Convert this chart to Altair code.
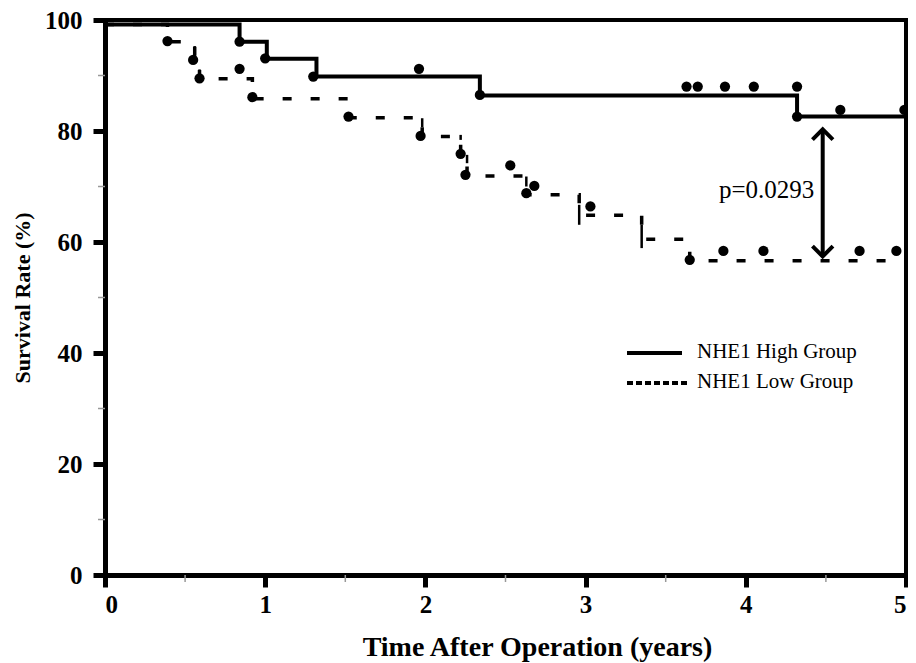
import altair as alt
import pandas as pd

# ---- data ----
high_t = [0, 0.84, 1.01, 1.32, 2.34, 4.32, 5.0]
high_s = [99.2, 96.1, 93.0, 89.8, 86.4, 82.6, 82.6]

low_t = [0, 0.39, 0.56, 0.59, 0.92, 1.52, 1.98, 2.22, 2.26, 2.63, 2.96, 3.35, 3.65, 5.0]
low_s = [99.2, 96.1, 92.8, 89.4, 85.8, 82.4, 79.0, 75.9, 71.9, 68.5, 64.8, 60.5, 56.6, 56.6]

high_dot_t = [0.84, 1.00, 1.30, 1.96, 2.34, 3.63, 3.70, 3.87, 4.05, 4.32, 4.32, 4.59, 4.99]
high_dot_s = [96.1, 93.1, 89.8, 91.2, 86.5, 88.0, 88.0, 88.0, 88.0, 88.0, 82.6, 83.8, 83.8]

low_dot_t = [0.39, 0.55, 0.59, 0.84, 0.92, 1.52, 1.97, 2.22, 2.25, 2.53, 2.63, 2.68, 3.03,
             3.65, 3.86, 4.11, 4.71, 4.94]
low_dot_s = [96.2, 92.8, 89.5, 91.2, 86.1, 82.6, 79.1, 75.9, 72.1, 73.8, 68.8, 70.1, 66.4,
             56.8, 58.4, 58.4, 58.4, 58.4]

# short vertical censor strokes on the low curve
low_tick_t = [0.56, 0.59, 1.98, 2.22, 2.26, 2.63, 2.96, 3.35]
low_tick_top = [95.3, 91.1, 82.3, 79.3, 75.7, 71.8, 66.7, 63.1]
low_tick_bot = [93.5, 90.1, 80.7, 78.4, 74.2, 70.0, 63.1, 58.9]

x_ticks = [0, 1, 2, 3, 4, 5]
y_ticks = [0, 20, 40, 60, 80, 100]
x_minor = [0.5, 1.5, 2.5, 3.5, 4.5]
y_minor = [10, 30, 50, 70, 90]

arrow_x = 4.48
arrow_top = 80.3
arrow_bot = 57.4
p_text = "p=0.0293"
p_x = 4.13
p_y = 69.3

legend_labels = ["NHE1 High Group", "NHE1 Low Group"]

FONT = "Liberation Serif"
W, H = 801, 555

xs = alt.Scale(domain=[0, 5], nice=False, zero=False)
ys = alt.Scale(domain=[0, 100], nice=False, zero=False)

high_df = pd.DataFrame({"t": high_t, "s": high_s})
low_df = pd.DataFrame({"t": low_t, "s": low_s})
hd_df = pd.DataFrame({"t": high_dot_t, "s": high_dot_s})
ld_df = pd.DataFrame({"t": low_dot_t, "s": low_dot_s})
lt_df = pd.DataFrame({"t": low_tick_t, "a": low_tick_top, "b": low_tick_bot})

common_axis = dict(
    grid=False, domainColor="black", domainWidth=5,
    tickColor="black", tickWidth=5, tickSize=12,
    labelFont=FONT, labelFontWeight="bold", labelFontSize=25, labelColor="black",
    titleFont=FONT, titleFontWeight="bold", titleColor="black",
)

X = alt.X("t:Q", scale=xs,
          axis=alt.Axis(values=x_ticks, format="d", title="Time After Operation (years)",
                        labelPadding=5, titlePadding=16, titleFontSize=28,
                        titleX=432, titleAnchor="middle", **common_axis))
Y = alt.Y("s:Q", scale=ys,
          axis=alt.Axis(values=y_ticks, format="d", title="Survival Rate (%)",
                        labelPadding=11, titlePadding=10, titleFontSize=22, **common_axis))

high_line = alt.Chart(high_df).mark_line(
    interpolate="step-after", color="black", strokeWidth=4
).encode(x=X, y=Y)

low_line = alt.Chart(low_df).mark_line(
    interpolate="step-after", color="black", strokeWidth=3.5, strokeDash=[9, 19]
).encode(x=X, y=Y)

low_ticks = alt.Chart(lt_df).mark_rule(color="black", strokeWidth=2.5).encode(
    x="t:Q", y="a:Q", y2="b:Q"
)

high_dots = alt.Chart(hd_df).mark_circle(color="black", size=105, opacity=1).encode(x="t:Q", y="s:Q")
low_dots = alt.Chart(ld_df).mark_circle(color="black", size=105, opacity=1).encode(x="t:Q", y="s:Q")

# minor ticks
xm = alt.Chart(pd.DataFrame({"m": x_minor})).mark_rule(color="#999999", strokeWidth=1.5).encode(
    x="m:Q", y=alt.value(H), y2=alt.value(H + 7)
)
ym = alt.Chart(pd.DataFrame({"m": y_minor})).mark_rule(color="#999999", strokeWidth=1.5).encode(
    y="m:Q", x=alt.value(-7), x2=alt.value(0)
)

# arrow annotation
arr_df = pd.DataFrame({"x": [arrow_x], "a": [arrow_bot], "b": [arrow_top]})
arrow_shaft = alt.Chart(arr_df).mark_rule(color="black", strokeWidth=4).encode(
    x="x:Q", y="a:Q", y2="b:Q"
)
arrow_up = alt.Chart(arr_df).mark_point(
    shape="M-1,1L0,0L1,1", filled=False, color="black", strokeWidth=4, size=420, opacity=1
).encode(x="x:Q", y="b:Q")
arrow_down = alt.Chart(arr_df).mark_point(
    shape="M-1,-1L0,0L1,-1", filled=False, color="black", strokeWidth=4, size=420, opacity=1
).encode(x="x:Q", y="a:Q")
p_label = alt.Chart(pd.DataFrame({"x": [p_x], "y": [p_y], "txt": [p_text]})).mark_text(
    font=FONT, fontSize=25, color="black", align="center", baseline="middle"
).encode(x="x:Q", y="y:Q", text="txt:N")

# manual legend
leg_high_line = alt.Chart(pd.DataFrame({"k": [0]})).mark_rule(color="black", strokeWidth=4).encode(
    x=alt.value(522), x2=alt.value(577), y=alt.value(333)
)
leg_low_line = alt.Chart(pd.DataFrame({"k": [0]})).mark_rule(
    color="black", strokeWidth=4, strokeDash=[6, 3]
).encode(x=alt.value(522), x2=alt.value(583), y=alt.value(363))
leg_high_text = alt.Chart(pd.DataFrame({"txt": [legend_labels[0]]})).mark_text(
    font=FONT, fontSize=21, color="black", align="left", baseline="middle"
).encode(x=alt.value(592), y=alt.value(332), text="txt:N")
leg_low_text = alt.Chart(pd.DataFrame({"txt": [legend_labels[1]]})).mark_text(
    font=FONT, fontSize=21, color="black", align="left", baseline="middle"
).encode(x=alt.value(592), y=alt.value(362), text="txt:N")

chart = alt.layer(
    xm, ym, low_line, low_ticks, high_line, low_dots, high_dots,
    arrow_shaft, arrow_up, arrow_down, p_label,
    leg_high_line, leg_low_line, leg_high_text, leg_low_text,
).properties(
    width=W, height=H,
    padding={"left": 97, "top": 12, "right": 2, "bottom": 88},
    autosize=alt.AutoSizeParams(type="none"),
).configure_view(
    stroke="black", strokeWidth=4
)

chart.save("out.html", embed_options={"renderer": "svg", "actions": False})
